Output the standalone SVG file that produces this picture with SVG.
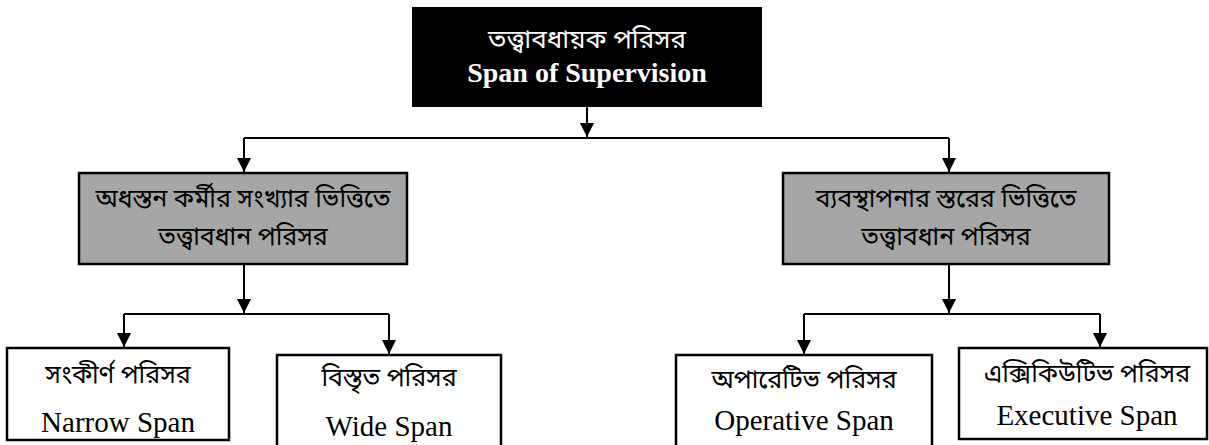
<svg xmlns="http://www.w3.org/2000/svg" width="1209" height="445" viewBox="0 0 1209 445">
<style>
.bn{font-family:"Noto Sans Bengali","Noto Serif Bengali","Lohit Bengali","Vrinda","Liberation Serif",serif;text-anchor:middle;fill:#000}
.en{font-family:"Liberation Serif","Times New Roman",serif;text-anchor:middle;fill:#000}
.box{fill:#fff;stroke:#000;stroke-width:2.5}
.gray{fill:#a6a6a6;stroke:#000;stroke-width:2.5}
.conn{fill:none;stroke:#000;stroke-width:2}
</style>
<defs>
<marker id="arr" viewBox="0 0 14 14" refX="14" refY="7" markerWidth="14" markerHeight="14" markerUnits="userSpaceOnUse" orient="auto">
<path d="M0,0 L14,7 L0,14 z" fill="#000"/>
</marker>
</defs>
<rect width="1209" height="445" fill="#fff"/>
<g id="connectors">
<path class="conn" d="M587,107 V137" marker-end="url(#arr)"/>
<path class="conn" d="M244,138 H949"/>
<path class="conn" d="M244,138 V172" marker-end="url(#arr)"/>
<path class="conn" d="M949,138 V172" marker-end="url(#arr)"/>
<path class="conn" d="M244,264 V313" marker-end="url(#arr)"/>
<path class="conn" d="M124,314 H389"/>
<path class="conn" d="M124,314 V347" marker-end="url(#arr)"/>
<path class="conn" d="M389,314 V354" marker-end="url(#arr)"/>
<path class="conn" d="M949,264 V313" marker-end="url(#arr)"/>
<path class="conn" d="M804,314 H1100"/>
<path class="conn" d="M804,314 V354" marker-end="url(#arr)"/>
<path class="conn" d="M1100,314 V347" marker-end="url(#arr)"/>
</g>
<g id="root">
<rect x="412" y="7" width="350" height="100" fill="#000"/>
<text class="bn" x="587" y="48" font-size="26" style="fill:#fff">তত্ত্বাবধায়ক পরিসর</text>
<text class="en" x="587" y="82" font-size="28" font-weight="bold" style="fill:#fff">Span of Supervision</text>
</g>
<g id="left-category">
<rect class="gray" x="79" y="173" width="328" height="91"/>
<text class="bn" x="243" y="207" font-size="25">অধস্তন কর্মীর সংখ্যার ভিত্তিতে</text>
<text class="bn" x="243" y="245" font-size="25">তত্ত্বাবধান পরিসর</text>
</g>
<g id="right-category">
<rect class="gray" x="783" y="173" width="326" height="91"/>
<text class="bn" x="946" y="207" font-size="25">ব্যবস্থাপনার স্তরের ভিত্তিতে</text>
<text class="bn" x="946" y="245" font-size="25">তত্ত্বাবধান পরিসর</text>
</g>
<g id="narrow">
<rect class="box" x="7" y="348" width="222" height="92"/>
<text class="bn" x="118" y="383" font-size="25">সংকীর্ণ পরিসর</text>
<text class="en" x="118" y="432" font-size="29">Narrow Span</text>
</g>
<g id="wide">
<rect class="box" x="277" y="355" width="224" height="100"/>
<text class="bn" x="389" y="386" font-size="25">বিস্তৃত পরিসর</text>
<text class="en" x="389" y="436" font-size="29">Wide Span</text>
</g>
<g id="operative">
<rect class="box" x="676" y="355" width="256" height="100"/>
<text class="bn" x="804" y="388" font-size="25">অপারেটিভ পরিসর</text>
<text class="en" x="804" y="430" font-size="29">Operative Span</text>
</g>
<g id="executive">
<rect class="box" x="959" y="348" width="248" height="91"/>
<text class="bn" x="1087" y="382" font-size="25">এক্সিকিউটিভ পরিসর</text>
<text class="en" x="1087" y="425" font-size="29">Executive Span</text>
</g>
</svg>
